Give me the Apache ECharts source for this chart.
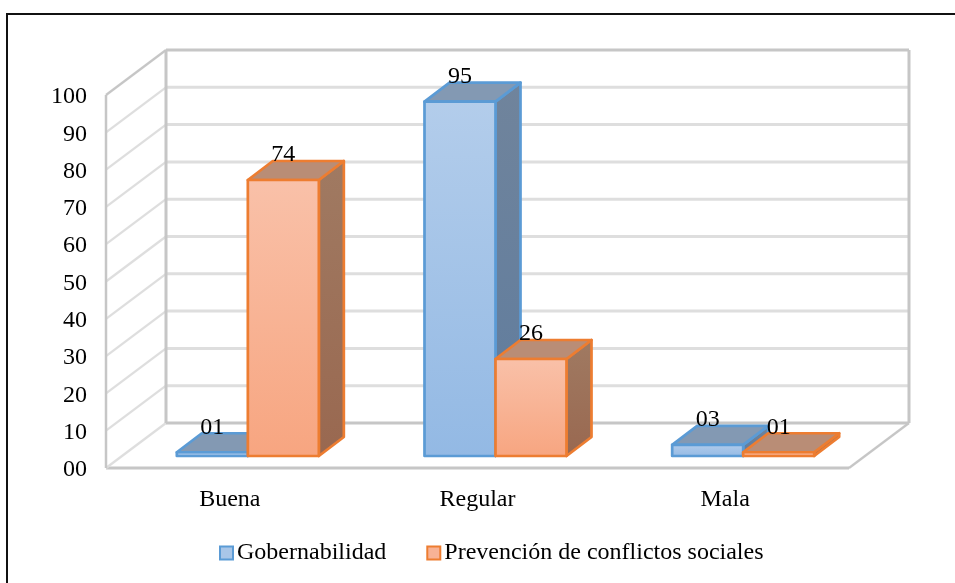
<!DOCTYPE html>
<html>
<head>
<meta charset="utf-8">
<title>Gobernabilidad</title>
<style>
html, body { margin: 0; padding: 0; background: #fff; }
#main { width: 955px; height: 583px; }
</style>
<script src="https://cdn.jsdelivr.net/npm/echarts@6/dist/echarts.min.js"></script>
</head>
<body>
<div id="main"></div>
<script>
var categories = ['Buena', 'Regular', 'Mala'];
var gobernabilidad = [1, 95, 3];
var prevencion = [74, 26, 1];
var yTicks = [0, 10, 20, 30, 40, 50, 60, 70, 80, 90, 100];

var FONT = '"Liberation Serif", "Times New Roman", serif';
var WALL_DX = 60, WALL_DY = -45;   // depth of the box
var BAR_DX = 25, BAR_DY = -19;     // depth of a bar
var OFFSET_X = 18, OFFSET_Y = -12; // bars sit inside the box
var BAR_W = 71;

var blue = {
    stroke: '#5b9bd5',
    front: ['#b3cdeb', '#93b9e4'],
    side: ['#70849c', '#5f7c9e'],
    top: '#8399b3'
};
var orange = {
    stroke: '#ed7d31',
    front: ['#f9c1a9', '#f7a580'],
    side: ['#a07a62', '#996850'],
    top: '#b98d76'
};

function vgrad(c) {
    return new echarts.graphic.LinearGradient(0, 0, 0, 1, [
        { offset: 0, color: c[0] },
        { offset: 1, color: c[1] }
    ]);
}

function poly(points, fill, stroke) {
    return {
        type: 'polygon',
        shape: { points: points },
        style: { fill: fill, stroke: stroke, lineWidth: 2.7, lineJoin: 'round' }
    };
}

function line(x1, y1, x2, y2, color, w) {
    return {
        type: 'line',
        shape: { x1: x1, y1: y1, x2: x2, y2: y2 },
        style: { stroke: color, lineWidth: w }
    };
}

// one wall gridline per tick, the outline is hung on the first and last tick
function renderWall(params, api) {
    var v = api.value(0);
    var y = api.coord([0, v])[1];
    var bottom = api.coord([0, 0])[1];
    var rect = params.coordSys;
    var left = rect.x, right = rect.x + rect.width;
    var bx = left + WALL_DX;
    var outer = '#c6c6c6', inner = '#dedede';
    var isTop = v === yTicks[yTicks.length - 1];
    var children = [];
    if (v === 0) {
        children.push(line(left, bottom, right, bottom, outer, 3));
        children.push(line(right, bottom, right + WALL_DX, bottom + WALL_DY, outer, 2.2));
        children.push(line(left, bottom, bx, bottom + WALL_DY, inner, 2.2));
        children.push(line(bx, bottom + WALL_DY, right + WALL_DX, bottom + WALL_DY, outer, 3));
    } else {
        children.push(line(left, y, bx, y + WALL_DY, isTop ? outer : inner, 2.2));
        children.push(line(bx, y + WALL_DY, right + WALL_DX, y + WALL_DY, isTop ? outer : inner, 3));
    }
    if (isTop) {
        children.push(line(left, y, left, bottom, outer, 2.5));
        children.push(line(bx, y + WALL_DY, bx, bottom + WALL_DY, outer, 3));
        children.push(line(right + WALL_DX, y + WALL_DY, right + WALL_DX, bottom + WALL_DY, outer, 3));
    }
    return { type: 'group', children: children };
}

function barRender(side, colors) {
    return function (params, api) {
        var top = api.coord([api.value(0), api.value(1)]);
        var base = api.coord([api.value(0), 0]);
        var c = top[0] + OFFSET_X;
        var x0 = side < 0 ? c - BAR_W : c;
        var x1 = x0 + BAR_W;
        var yt = top[1] + OFFSET_Y;
        var yb = base[1] + OFFSET_Y;
        return {
            type: 'group',
            children: [
                poly([[x1, yt], [x1 + BAR_DX, yt + BAR_DY], [x1 + BAR_DX, yb + BAR_DY], [x1, yb]], vgrad(colors.side), colors.stroke),
                poly([[x0, yt], [x0 + BAR_DX, yt + BAR_DY], [x1 + BAR_DX, yt + BAR_DY], [x1, yt]], colors.top, colors.stroke),
                poly([[x0, yt], [x1, yt], [x1, yb], [x0, yb]], vgrad(colors.front), colors.stroke)
            ]
        };
    };
}

function labelRender(side) {
    return function (params, api) {
        var top = api.coord([api.value(0), api.value(1)]);
        var v = api.value(1);
        return {
            type: 'text',
            style: {
                text: (v < 10 ? '0' : '') + v,
                x: top[0] + OFFSET_X + side * BAR_W / 2,
                y: top[1] + OFFSET_Y - 25,
                align: 'center',
                verticalAlign: 'middle',
                fill: '#000',
                font: '24px ' + FONT
            }
        };
    };
}

function pairs(values) {
    return values.map(function (v, i) { return [i, v]; });
}

var myChart = echarts.init(document.getElementById('main'), null, { renderer: 'canvas' });
myChart.setOption({
    backgroundColor: '#fff',
    animation: false,
    graphic: [
        { type: 'line', shape: { x1: 6, y1: 14, x2: 955, y2: 14 }, style: { stroke: '#111', lineWidth: 2 }, silent: true },
        { type: 'line', shape: { x1: 7, y1: 14, x2: 7, y2: 583 }, style: { stroke: '#111', lineWidth: 2 }, silent: true }
    ],
    legend: {
        left: 214,
        top: 536,
        itemWidth: 13,
        itemHeight: 13,
        itemGap: 40,
        textStyle: { fontFamily: FONT, fontSize: 24, color: '#000', padding: [0, 0, 0, -1] },
        data: [
            { name: 'Gobernabilidad', icon: 'rect' },
            { name: 'Prevención de conflictos sociales', icon: 'rect' }
        ]
    },
    grid: { left: 106, right: 106, top: 95, bottom: 115 },
    xAxis: {
        type: 'category',
        data: categories,
        axisLine: { show: false },
        axisTick: { show: false },
        axisLabel: { fontFamily: FONT, fontSize: 24, color: '#000', margin: 20 }
    },
    yAxis: {
        type: 'value',
        min: 0,
        max: 100,
        interval: 10,
        axisLine: { show: false },
        axisTick: { show: false },
        splitLine: { show: false },
        axisLabel: {
            fontFamily: FONT, fontSize: 24, color: '#000', margin: 19,
            verticalAlign: 'bottom', padding: [0, 0, -14, 0],
            formatter: function (v) { return v < 10 ? '0' + v : '' + v; }
        }
    },
    series: [
        { type: 'custom', name: 'walls', silent: true, z: 1, clip: false, renderItem: renderWall,
          data: yTicks.map(function (t) { return [t]; }), encode: { y: 0 } },
        { type: 'custom', name: 'Gobernabilidad', z: 2, clip: false, renderItem: barRender(-1, blue),
          itemStyle: { color: '#a9c6e8', borderColor: blue.stroke, borderWidth: 2.5 },
          data: pairs(gobernabilidad), encode: { x: 0, y: 1 } },
        { type: 'custom', name: 'Prevención de conflictos sociales', z: 3, clip: false, renderItem: barRender(1, orange),
          itemStyle: { color: '#f8b295', borderColor: orange.stroke, borderWidth: 2.5 },
          data: pairs(prevencion), encode: { x: 0, y: 1 } },
        { type: 'custom', name: 'labelsA', silent: true, z: 4, clip: false, renderItem: labelRender(-1),
          data: pairs(gobernabilidad), encode: { x: 0, y: 1 } },
        { type: 'custom', name: 'labelsB', silent: true, z: 4, clip: false, renderItem: labelRender(1),
          data: pairs(prevencion), encode: { x: 0, y: 1 } }
    ]
});
</script>
</body>
</html>
